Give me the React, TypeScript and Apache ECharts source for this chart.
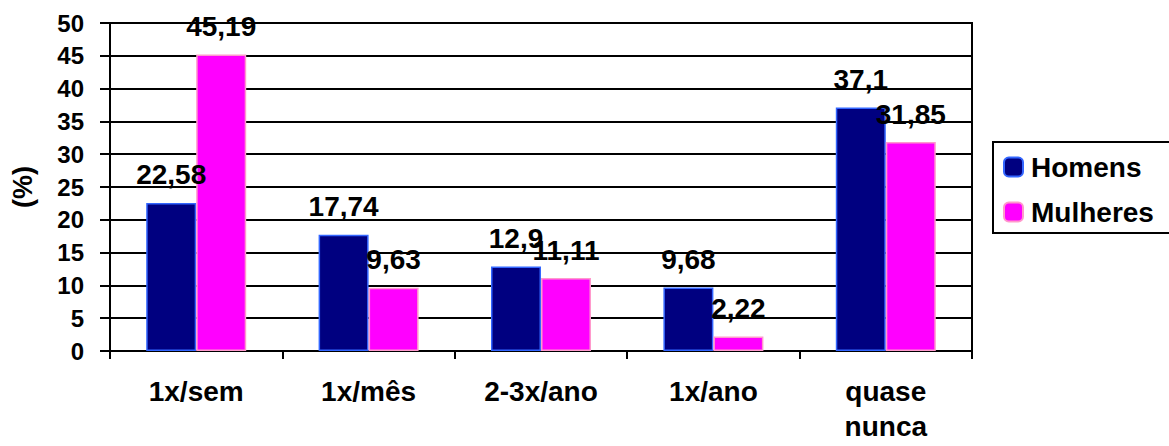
import React, { useEffect, useRef } from "react";
import * as echarts from "echarts";

const categories = ["1x/sem", "1x/mês", "2-3x/ano", "1x/ano", "quase\nnunca"];
const homens = [22.58, 17.74, 12.9, 9.68, 37.1];
const mulheres = [45.19, 9.63, 11.11, 2.22, 31.85];
const seriesNames = ["Homens", "Mulheres"];

const FONT = "Arial, 'Liberation Sans', sans-serif";

export default function App() {
  const ref = useRef<HTMLDivElement>(null);
  useEffect(() => {
    if (!ref.current) return;
    const chart = echarts.init(ref.current, null, { renderer: "svg" });
    const fmt = (p: any) => String(p.value).replace(".", ",");
    const labelStyle = {
      show: true,
      position: "top" as const,
      distance: 14,
      formatter: fmt,
      fontFamily: FONT,
      fontWeight: "bold" as const,
      fontSize: 28,
      color: "#000",
    };
    chart.setOption({
      animation: false,
      backgroundColor: "#fff",
      grid: {
        left: 110,
        right: 197,
        top: 23,
        bottom: 95,
        show: true,
        borderColor: "#000",
        borderWidth: 2,
        containLabel: false,
        outerBoundsMode: "none",
      },
      legend: {
        orient: "vertical",
        left: 993,
        top: 142,
        data: seriesNames,
        borderColor: "#000",
        borderWidth: 2,
        padding: [11, 20, 7, 10],
        itemWidth: 19,
        itemHeight: 19,
        itemGap: 17,
        textStyle: {
          fontFamily: FONT,
          fontWeight: "bold",
          fontSize: 28,
          color: "#000",
          padding: [0, 0, 0, 3],
        },
      },
      xAxis: {
        type: "category",
        data: categories,
        axisLine: { lineStyle: { color: "#000", width: 2 } },
        axisTick: { show: true, length: 8, lineStyle: { color: "#000", width: 2 } },
        axisLabel: {
          fontFamily: FONT,
          fontWeight: "bold",
          fontSize: 28,
          color: "#000",
          margin: 23,
          lineHeight: 35,
          interval: 0,
        },
      },
      yAxis: {
        type: "value",
        min: 0,
        max: 50,
        interval: 5,
        name: "(%)",
        nameLocation: "middle",
        nameGap: 74,
        nameRotate: 90,
        nameTextStyle: {
          fontFamily: FONT,
          fontWeight: "bold",
          fontSize: 27,
          color: "#000",
        },
        axisLine: { show: true, lineStyle: { color: "#000", width: 2 } },
        axisTick: { show: true, length: 10, lineStyle: { color: "#000", width: 2 } },
        splitLine: { show: true, lineStyle: { color: "#000", width: 2 } },
        axisLabel: {
          fontFamily: FONT,
          fontWeight: "bold",
          fontSize: 24,
          color: "#000",
          margin: 26,
        },
      },
      series: [
        {
          name: seriesNames[0],
          type: "bar",
          data: homens,
          barWidth: 50,
          barGap: "0%",
          itemStyle: { color: "#000080", borderColor: "#3366ff", borderWidth: 1.5 },
          label: labelStyle,
        },
        {
          name: seriesNames[1],
          type: "bar",
          data: mulheres,
          barWidth: 50,
          barGap: "0%",
          itemStyle: { color: "#ff00ff", borderColor: "#ff99cc", borderWidth: 1.5 },
          label: labelStyle,
        },
      ],
    });
    return () => chart.dispose();
  }, []);
  return (
    <div
      ref={ref}
      style={{ position: "fixed", left: 0, top: 0, width: 1169, height: 446 }}
    />
  );
}
